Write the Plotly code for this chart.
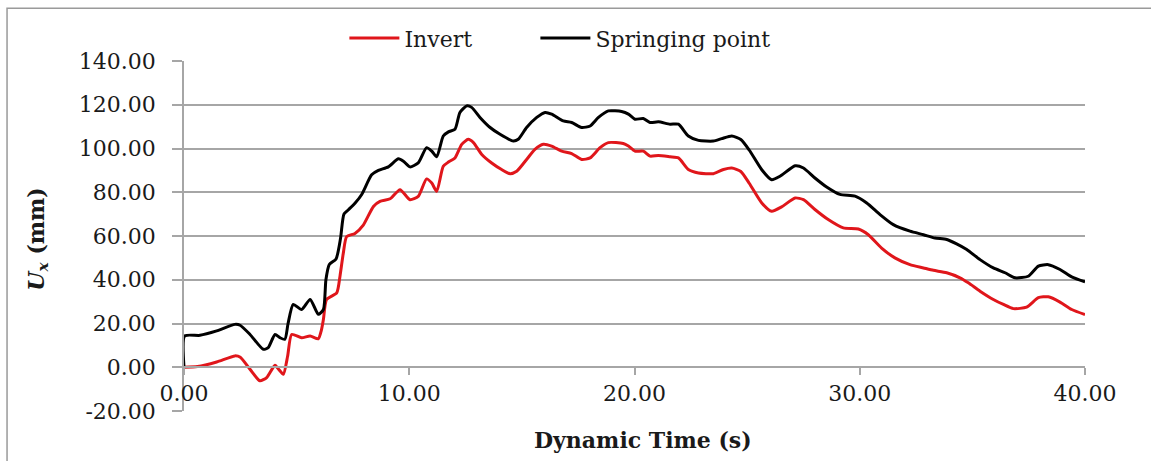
import plotly.graph_objects as go

# Data
t_spring = [0, 0.03, 0.71, 1.45, 2.26, 2.49, 2.93, 3.52, 3.74, 4.04, 4.26, 4.48, 4.62, 4.85,
            5.22, 5.6, 5.96, 6.19, 6.3, 6.45, 6.75, 6.95, 7.1, 7.3, 7.59, 7.89, 8.33, 8.63,
            9.07, 9.52, 9.74, 10.03, 10.4, 10.77, 11.0, 11.22, 11.51, 11.74, 12.03, 12.25,
            12.55, 12.77, 13.14, 13.59, 14.03, 14.62, 14.84, 15.21, 15.66, 16.03, 16.32,
            16.84, 17.21, 17.65, 18.03, 18.4, 18.84, 19.43, 19.73, 20.02, 20.39, 20.69,
            21.06, 21.58, 21.95, 22.39, 22.84, 23.5, 23.87, 24.32, 24.72, 25.1, 25.65,
            26.09, 26.46, 27.13, 27.5, 28.01, 28.53, 29.12, 29.79, 30.31, 30.9, 31.49,
            32.23, 32.83, 33.34, 33.86, 34.3, 34.75, 35.34, 35.93, 36.45, 36.89, 37.48,
            37.93, 38.37, 38.89, 39.41, 40]
spring = [0, 14.3, 14.6, 16.6, 19.6, 19.2, 15.0, 8.2, 9.0, 15.0, 13.5, 12.8, 20.0, 28.7,
          26.4, 31.0, 24.2, 26.4, 40.0, 47.0, 49.5, 59.0, 70.0, 72.0, 75.0, 79.0, 88.0, 90.0,
          91.6, 95.3, 94.2, 91.6, 93.4, 100.4, 98.8, 96.2, 105.7, 107.6, 108.8, 116.5,
          119.5, 118.8, 114.2, 109.6, 106.5, 103.4, 104.2, 109.6, 114.2, 116.5, 115.7,
          112.6, 111.9, 109.6, 110.3, 114.2, 117.2, 116.9, 115.7, 113.4, 113.7, 111.9,
          112.2, 111.1, 111.1, 105.7, 103.7, 103.4, 104.5, 105.7, 104.1, 99.2, 90.3,
          85.7, 87.3, 92.1, 91.1, 86.5, 82.4, 79.0, 78.2, 75.1, 69.8, 65.2,
          62.2, 60.6, 59.1, 58.4, 56.4, 53.8, 49.2, 45.4, 43.2, 40.9, 41.6,
          46.2, 46.9, 44.7, 41.3, 39.0]

t_invert = [0, 0.6, 1.45, 2.26, 2.5, 2.93, 3.37, 3.67, 4.04, 4.2, 4.41, 4.6, 4.78, 5.22,
            5.6, 5.96, 6.1, 6.19, 6.33, 6.78, 6.93, 7.07, 7.22, 7.59, 7.96, 8.41, 8.7, 9.15,
            9.59, 10.03, 10.4, 10.77, 11.0, 11.22, 11.51, 11.74, 12.03, 12.33, 12.62, 12.85,
            13.22, 13.66, 14.1, 14.47, 14.77, 15.21, 15.58, 15.95, 16.32, 16.77, 17.21,
            17.65, 18.03, 18.47, 18.84, 19.5, 19.73, 20.02, 20.39, 20.69, 21.06, 21.58,
            21.95, 22.39, 22.84, 23.5, 23.95, 24.32, 24.72, 25.1, 25.65, 26.09, 26.53,
            27.13, 27.5, 28.01, 28.6, 29.27, 29.94, 30.38, 30.97, 31.56, 32.23, 32.83,
            33.27, 33.86, 34.45, 34.82, 35.34, 35.93, 36.38, 36.82, 37.41, 37.93, 38.37,
            38.89, 39.41, 40]
invert = [0, 0.3, 2.4, 5.2, 4.6, -0.9, -6.2, -4.7, 0.9, -0.9, -3.2, 5.0, 15.0, 13.5,
          14.3, 13.0, 17.0, 21.9, 31.0, 34.0, 42.0, 52.0, 59.7, 61.2, 65.0, 73.5, 75.8, 77.0,
          81.2, 76.6, 78.1, 86.1, 84.2, 80.4, 91.9, 93.8, 95.7, 101.9, 104.2, 102.7,
          97.3, 93.4, 90.4, 88.5, 89.6, 95.0, 99.6, 101.9, 101.1, 98.8, 97.7,
          95.0, 95.7, 100.4, 102.7, 102.3, 101.1, 98.8, 98.8, 96.5, 96.8, 96.2,
          95.7, 90.4, 88.8, 88.5, 90.4, 91.1, 89.5, 84.0, 75.1, 71.3, 73.3,
          77.4, 76.6, 72.1, 67.5, 63.7, 63.2, 60.6, 54.5, 50.0, 46.9, 45.4,
          44.3, 43.2, 40.9, 38.6, 34.8, 31.0, 28.7, 26.8, 27.5, 31.8, 32.2,
          29.8, 26.4, 24.1]

x_ticks = [0, 10, 20, 30, 40]
y_ticks = [-20, 0, 20, 40, 60, 80, 100, 120, 140]
x_labels = ["%.2f" % v for v in x_ticks]
y_labels = ["%.2f" % v for v in y_ticks]

FONT = "DejaVu Serif"
GRID = "#a6a6a6"
TXT = "#1a1a1a"

fig = go.Figure()
fig.add_trace(go.Scatter(x=t_invert, y=invert, name="Invert", mode="lines", legend="legend",
                         line=dict(color="#e0161b", width=3, shape="spline", smoothing=0.6)))
fig.add_trace(go.Scatter(x=t_spring, y=spring, name="Springing point", mode="lines",
                         legend="legend2",
                         line=dict(color="#000000", width=3, shape="spline", smoothing=0.6)))

leg_common = dict(orientation="h", xanchor="left", y=1.065, yanchor="middle",
                  font=dict(family=FONT, size=22, color=TXT),
                  itemwidth=50, bgcolor="rgba(0,0,0,0)")

fig.update_layout(
    width=1151, height=461,
    margin=dict(l=184, r=66, t=61, b=50),
    paper_bgcolor="white", plot_bgcolor="white",
    font=dict(family=FONT, size=22, color=TXT),
    showlegend=True,
    legend=dict(x=0.178, **leg_common),
    legend2=dict(x=0.39, **leg_common),
    xaxis=dict(range=[0, 40], tickvals=x_ticks, ticktext=x_labels,
               anchor="free", position=0.125, showline=True, linecolor=GRID, linewidth=1.5,
               ticks="outside", ticklen=7, tickcolor=GRID, tickwidth=1.5,
               showgrid=False, zeroline=False, tickfont=dict(family=FONT, size=22, color=TXT)),
    yaxis=dict(range=[-20, 140], tickvals=y_ticks, ticktext=y_labels,
               showline=True, linecolor=GRID, linewidth=1.5,
               ticks="outside", ticklen=10, tickcolor=GRID, tickwidth=1.5,
               showgrid=True, gridcolor=GRID, gridwidth=1.5, zeroline=False,
               ticklabelstandoff=12, tickfont=dict(family=FONT, size=22, color=TXT)),
)

fig.add_annotation(text="<b><i>U<sub>x</sub></i> (mm)</b>", xref="paper", yref="paper",
                   x=-0.163, y=0.49, xanchor="center", yanchor="middle",
                   textangle=-90, showarrow=False,
                   font=dict(family=FONT, size=22, color=TXT))
fig.add_annotation(text="<b>Dynamic Time (s)</b>", xref="paper", yref="paper",
                   x=0.509, y=-0.083, xanchor="center", yanchor="middle", showarrow=False,
                   font=dict(family=FONT, size=22, color=TXT))

# outer chart border
fig.add_shape(type="rect", xref="paper", yref="paper",
              x0=-0.1964, x1=1.2, y0=-0.3, y1=1.151,
              line=dict(color="#9a9a9a", width=1.5), layer="below")

fig.write_html("out.html")
